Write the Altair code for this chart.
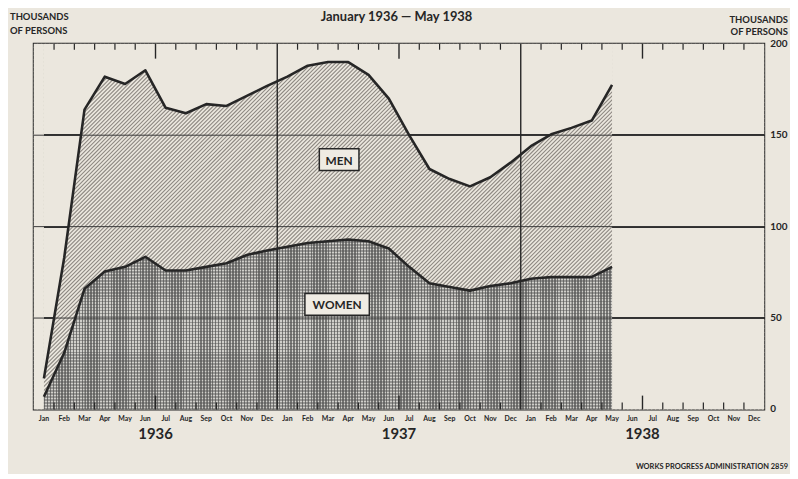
import altair as alt
import pandas as pd

# ---------------- data ----------------
month_names = ["Jan", "Feb", "Mar", "Apr", "May", "Jun",
               "Jul", "Aug", "Sep", "Oct", "Nov", "Dec"]
years = ["1936", "1937", "1938"]
# thousands of persons, Jan 1936 .. May 1938
women = [7, 31, 66, 75.5, 78, 83.5, 76, 76, 78, 80, 84.5, 87,
         89, 91, 92, 93, 92, 88, 78, 69, 67, 65, 67.5, 69,
         71.5, 72.5, 72.5, 72.5, 78]
men = [10, 52, 98, 106.5, 100, 102, 89, 86, 89, 86, 87, 90,
       93, 97, 98, 97, 91, 82, 72, 62.5, 59, 57, 59.5, 66,
       72.5, 78, 81.5, 85.5, 99.5]
y_ticks = [0, 50, 100, 150, 200]
grid_vals = [50, 100, 150]
labels = ["MEN", "WOMEN"]
label_t = [15.05, 14.95]
label_v = [136.6, 57.5]

# ---------------- layout ----------------
W_PLOT, H_PLOT = 737, 369
N_MONTH, Y_MAX = 36, 200
xs = W_PLOT / N_MONTH
ys = H_PLOT / Y_MAX

FONT = "Lato"
INK = "#262626"
BG = "#ebe7de"
GRID_DARK = "#2e2e2e"

n = len(women)
df = pd.DataFrame({"t": [i + 0.5 for i in range(n)], "women": women, "men": men})
df["total"] = df["women"] + df["men"]
df["top"] = Y_MAX

# per-month segments of the women area (for the fine texture)
seg_rows = []
for i in range(n - 1):
    seg_rows.append({"seg": i, "t": i + 0.5, "w": women[i]})
    seg_rows.append({"seg": i, "t": i + 1.5, "w": women[i + 1]})
seg_df = pd.DataFrame(seg_rows)

# masks outside the data range
mask_l = pd.DataFrame({"a": [0], "b": [0.5], "lo": [0], "hi": [Y_MAX]})
mask_r = pd.DataFrame({"a": [n - 0.5], "b": [N_MONTH], "lo": [0], "hi": [Y_MAX]})

all_months = pd.DataFrame({
    "t": [i + 0.5 for i in range(N_MONTH)],
    "m": [month_names[i % 12] for i in range(N_MONTH)],
})
year_df = pd.DataFrame({"t": [6, 18, 30], "y": years})
bounds = [b for b in range(1, N_MONTH) if b % 12 != 0]
short_df = pd.DataFrame({"b": [b for b in bounds if b % 12 != 6]})
long_df = pd.DataFrame({"b": [b for b in bounds if b % 12 == 6]})
year_line_df = pd.DataFrame({"b": [12, 24]})
grid_df = pd.DataFrame({"g": grid_vals})
rlab_df = pd.DataFrame({"v": y_ticks})
lab_df = pd.DataFrame({"lab": labels, "t": label_t, "v": label_v})

# diagonal hatch texture ("/") for the men band, 4 px apart horizontally
HATCH_STEP = 4
hatch = []
c = 0
while c <= W_PLOT + H_PLOT:
    xa, xb = max(0, c - H_PLOT), min(W_PLOT, c)
    if xb > xa:
        hatch.append({"ta": xa / xs, "tb": xb / xs,
                      "va": (H_PLOT - (c - xa)) / ys, "vb": (H_PLOT - (c - xb)) / ys})
    c += HATCH_STEP
hatch_df = pd.DataFrame(hatch)


# ---------------- gradients ----------------
def stripes(length, period, frac, c_on, c_off):
    m = length / period
    out = []
    k = 0
    while k < m - 1e-9:
        a = round(k / m, 5)
        b = round(min((k + frac) / m, 1), 5)
        e = round(min((k + 1) / m, 1), 5)
        out += [{"offset": a, "color": c_on}, {"offset": b, "color": c_on},
                {"offset": b, "color": c_off}, {"offset": e, "color": c_off}]
        k += 1
    return out


def band_grad(bottom_val, width_px=2.2):
    """BG fill with dark bands where the gridlines cross an empty region."""
    hb = (Y_MAX - bottom_val) * ys
    stops = [{"offset": 0, "color": BG}]
    for v in sorted(grid_vals, reverse=True):
        if v <= bottom_val:
            continue
        cy = (Y_MAX - v) * ys
        a = round((cy - width_px / 2) / hb, 5)
        b = round((cy + width_px / 2) / hb, 5)
        stops += [{"offset": a, "color": BG}, {"offset": a, "color": GRID_DARK},
                  {"offset": b, "color": GRID_DARK}, {"offset": b, "color": BG}]
    stops.append({"offset": 1, "color": BG})
    return {"gradient": "linear", "x1": 0, "y1": 0, "x2": 0, "y2": 1, "stops": stops}


grad_v = {"gradient": "linear", "x1": 0, "y1": 0, "x2": 1, "y2": 0,
          "stops": stripes(xs, xs / 7, 0.5, "#777775", "rgba(0,0,0,0)")}
wom_H = max(women) * ys
grad_h = {"gradient": "linear", "x1": 0, "y1": 1, "x2": 0, "y2": 0,
          "stops": stripes(wom_H, 3, 0.5, "rgba(80,80,80,0.45)", "rgba(0,0,0,0)")}
grad_mask_top = band_grad(min(df["total"]))
grad_mask_side = band_grad(0)

# ---------------- scales ----------------
XS = alt.Scale(domain=[0, N_MONTH], nice=False, zero=False)
YS = alt.Scale(domain=[0, Y_MAX], nice=False)


def X(f):
    return alt.X(f, type="quantitative", scale=XS, axis=None)


def Y(f, axis=None):
    return alt.Y(f, type="quantitative", scale=YS, axis=axis, stack=None)


left_axis = alt.Axis(values=y_ticks, ticks=False, domain=False, grid=False,
                     labelFont=FONT, labelFontWeight="bold", labelFontSize=10,
                     labelColor=INK, labelPadding=5, labelFlush=False, title=None)

base = alt.Chart(df)

hatch_lines = alt.Chart(hatch_df).mark_rule(color="#8d8882", strokeWidth=1.1).encode(
    x=X("ta"), x2="tb", y=Y("va", left_axis), y2="vb")
mask_top = base.mark_area(fill=grad_mask_top, strokeWidth=0).encode(
    x=X("t"), y=Y("total"), y2="top")
mask_left = alt.Chart(mask_l).mark_rect(fill=BG, strokeWidth=0).encode(
    x=X("a"), x2="b", y=Y("lo"), y2="hi")
mask_right = alt.Chart(mask_r).mark_rect(fill=grad_mask_side, strokeWidth=0).encode(
    x=X("a"), x2="b", y=Y("lo"), y2="hi")

women_base = base.mark_area(fill="#d0cfca", strokeWidth=0).encode(x=X("t"), y=Y("women"))
women_v = alt.Chart(seg_df).mark_area(fill=grad_v, strokeWidth=0).encode(
    x=X("t"), y=Y("w"), detail="seg:N")
women_h = base.mark_area(fill=grad_h, strokeWidth=0).encode(x=X("t"), y=Y("women"))

grid = alt.Chart(grid_df).mark_rule(color="#3a3a3a", strokeWidth=1).encode(
    y=Y("g"), x=alt.value(0), x2=alt.value(W_PLOT))
year_lines = alt.Chart(year_line_df).mark_rule(color=INK, strokeWidth=1.4).encode(
    x=X("b"), y=alt.value(0), y2=alt.value(H_PLOT))
top_short = alt.Chart(short_df).mark_rule(color=INK, strokeWidth=1.2).encode(
    x=X("b"), y=alt.value(0), y2=alt.value(6))
top_long = alt.Chart(long_df).mark_rule(color=INK, strokeWidth=1.4).encode(
    x=X("b"), y=alt.value(0), y2=alt.value(15))
bot_short = alt.Chart(short_df).mark_rule(color=INK, strokeWidth=1.2).encode(
    x=X("b"), y=alt.value(H_PLOT - 7), y2=alt.value(H_PLOT))
bot_long = alt.Chart(long_df).mark_rule(color=INK, strokeWidth=1.4).encode(
    x=X("b"), y=alt.value(H_PLOT - 14), y2=alt.value(H_PLOT))

line_total = base.mark_line(color=INK, strokeWidth=2.6, strokeJoin="round").encode(
    x=X("t"), y=Y("total"))
line_women = base.mark_line(color=INK, strokeWidth=2.6, strokeJoin="round").encode(
    x=X("t"), y=Y("women"))

box_men = alt.Chart(lab_df).transform_filter(alt.datum.lab == "MEN").mark_point(
    shape="M-1,-0.55L1,-0.55L1,0.55L-1,0.55Z", size=1600, filled=True,
    fill="#efebe3", stroke=INK, strokeWidth=1.5, opacity=1).encode(x=X("t"), y=Y("v"))
box_women = alt.Chart(lab_df).transform_filter(alt.datum.lab == "WOMEN").mark_point(
    shape="M-1,-0.338L1,-0.338L1,0.338L-1,0.338Z", size=4225, filled=True,
    fill="#efebe3", stroke=INK, strokeWidth=1.5, opacity=1).encode(x=X("t"), y=Y("v"))
lab_text = alt.Chart(lab_df).mark_text(
    font=FONT, fontWeight="bold", fontSize=12, color=INK, baseline="middle", dy=1).encode(
    x=X("t"), y=Y("v"), text="lab:N")

month_text = alt.Chart(all_months).mark_text(
    font=FONT, fontWeight="bold", fontSize=7, color=INK, baseline="middle").encode(
    x=X("t"), y=alt.value(H_PLOT + 10), text="m:N")
year_text = alt.Chart(year_df).mark_text(
    font=FONT, fontWeight="bold", fontSize=15, color=INK, baseline="middle").encode(
    x=X("t"), y=alt.value(H_PLOT + 25), text="y:N")
right_text = alt.Chart(rlab_df).mark_text(
    font=FONT, fontWeight="bold", fontSize=10, color=INK, align="left",
    baseline="middle").encode(x=alt.value(W_PLOT + 6), y=Y("v"), text="v:Q")


def free_text(txt, x, y, size, align="left", baseline="middle"):
    return alt.Chart(pd.DataFrame({"s": [txt]})).mark_text(
        font=FONT, fontWeight="bold", fontSize=size, color=INK,
        align=align, baseline=baseline).encode(
        x=alt.value(x), y=alt.value(y), text="s:N")


title = free_text("January 1936 \u2014 May 1938", 366, -23, 13, "center", "alphabetic")
lt1 = free_text("THOUSANDS", -24, -27, 9.5)
lt2 = free_text("OF PERSONS", -24, -13, 9.5)
rt1 = free_text("THOUSANDS", 761, -24, 9.5, "right")
rt2 = free_text("OF PERSONS", 761, -12, 9.5, "right")
footer = free_text("WORKS PROGRESS ADMINISTRATION    2859", 761, 427, 7.5, "right")

chart = alt.layer(
    hatch_lines, mask_top, mask_left, mask_right,
    women_base, women_v, women_h,
    grid, year_lines, top_short, top_long, bot_short, bot_long,
    line_total, line_women, box_men, box_women, lab_text,
    month_text, year_text, right_text,
    title, lt1, lt2, rt1, rt2, footer,
).properties(
    width=W_PLOT, height=H_PLOT,
    autosize=alt.AutoSizeParams(type="none"),
    padding={"left": 26, "top": 34, "right": 26, "bottom": 63},
    background=BG,
).configure_view(
    stroke=INK, strokeWidth=2,
)

chart.save("out.html", embed_options={"renderer": "svg", "actions": False})
